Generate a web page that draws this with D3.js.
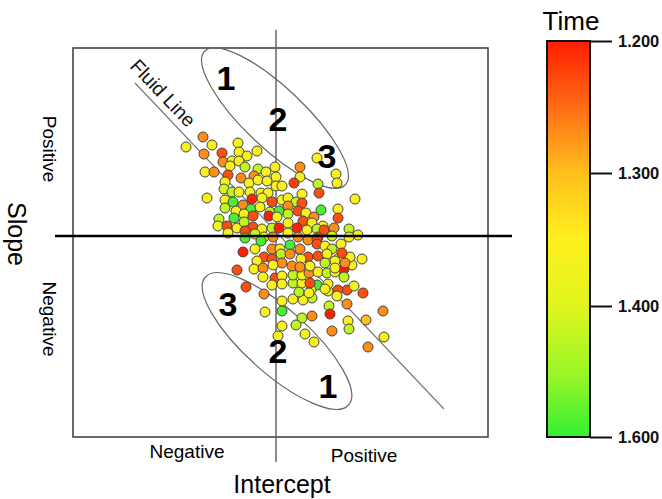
<!DOCTYPE html>
<html>
<head>
<meta charset="utf-8">
<script src="https://cdn.jsdelivr.net/npm/d3@7/dist/d3.min.js"></script>
<style>
  body { margin: 0; background: #fff; }
  svg text { font-family: Arial, "Liberation Sans", sans-serif; }
</style>
</head>
<body>
<svg id="chart" width="662" height="499"></svg>
<script>
// [intercept, slope, time]
const points = [
  [-0.73,0.99,1.27],[-0.90,0.89,1.36],[-0.64,0.91,1.36],[-0.38,0.93,1.36],[-0.72,0.82,1.27],
  [-0.54,0.83,1.23],[-0.37,0.84,1.36],[-0.29,0.80,1.36],[-0.19,0.85,1.36],[-0.53,0.74,1.27],
  [-0.44,0.75,1.36],[-0.37,0.75,1.36],[-0.31,0.69,1.45],[-0.46,0.70,1.36],[-0.71,0.64,1.36],
  [-0.62,0.64,1.27],[-0.48,0.61,1.23],[-0.18,0.67,1.45],[-0.10,0.64,1.36],[-0.01,0.69,1.36],
  [-0.22,0.60,1.27],[-0.51,0.54,1.36],[-0.35,0.58,1.27],[-0.27,0.53,1.36],[-0.18,0.56,1.36],
  [-0.09,0.55,1.36],[0.00,0.59,1.36],[-0.52,0.47,1.42],[-0.44,0.44,1.45],[-0.37,0.44,1.36],
  [-0.26,0.44,1.36],[-0.15,0.43,1.36],[-0.08,0.43,1.36],[0.00,0.50,1.36],[0.06,0.50,1.36],
  [-0.69,0.38,1.36],[-0.51,0.36,1.36],[-0.43,0.34,1.58],[-0.33,0.31,1.27],[-0.24,0.37,1.20],
  [-0.14,0.38,1.36],[-0.04,0.34,1.23],[0.06,0.36,1.36],[-0.51,0.28,1.45],[-0.40,0.25,1.36],
  [-0.25,0.27,1.58],[-0.16,0.29,1.36],[-0.06,0.24,1.45],[0.03,0.25,1.58],[-0.57,0.17,1.45],
  [-0.42,0.18,1.58],[-0.32,0.22,1.36],[-0.23,0.20,1.23],[-0.07,0.20,1.20],[0.01,0.19,1.36],
  [-0.58,0.10,1.36],[-0.49,0.10,1.23],[-0.39,0.08,1.36],[-0.32,0.14,1.45],[-0.23,0.09,1.23],
  [-0.14,0.07,1.36],[-0.04,0.08,1.45],[0.03,0.08,1.20],[-0.48,0.03,1.36],[-0.31,0.05,1.23],
  [-0.21,0.02,1.45],[-0.12,-0.01,1.36],[-0.03,-0.01,1.27],[-0.31,-0.02,1.58],
  [0.41,0.78,1.36],[0.24,0.69,1.27],[0.24,0.59,1.36],[0.60,0.62,1.36],[0.18,0.53,1.22],
  [0.42,0.52,1.45],[0.61,0.53,1.36],[0.43,0.43,1.23],[0.26,0.42,1.36],[0.12,0.38,1.36],
  [0.20,0.34,1.45],[0.79,0.37,1.36],[0.26,0.33,1.23],[0.12,0.30,1.27],[0.45,0.26,1.58],
  [0.62,0.27,1.36],[0.22,0.25,1.23],[0.30,0.23,1.36],[0.12,0.22,1.45],[0.38,0.19,1.27],
  [0.62,0.18,1.23],[0.27,0.15,1.23],[0.36,0.13,1.36],[0.47,0.10,1.36],[0.12,0.13,1.36],
  [0.21,0.08,1.20],[0.31,0.06,1.36],[0.41,0.07,1.45],[0.48,0.06,1.23],[0.58,0.08,1.27],
  [0.73,0.07,1.45],[0.82,0.01,1.36],[0.73,-0.01,1.36],[0.56,0.00,1.45],[0.42,-0.01,1.23],
  [0.12,0.03,1.36],[0.22,-0.01,1.27],
  [-0.15,-0.05,1.58],[-0.33,-0.16,1.20],[-0.21,-0.13,1.36],[-0.04,-0.13,1.27],[0.04,-0.13,1.36],
  [-0.12,-0.21,1.23],[-0.04,-0.23,1.23],[0.05,-0.18,1.45],[-0.19,-0.25,1.36],[0.06,-0.27,1.27],
  [-0.39,-0.34,1.23],[-0.22,-0.33,1.36],[-0.13,-0.32,1.27],[-0.03,-0.29,1.36],[-0.13,-0.41,1.36],
  [-0.01,-0.42,1.23],[0.06,-0.40,1.36],[-0.04,-0.49,1.36],[0.06,-0.48,1.36],[-0.30,-0.51,1.23],
  [-0.12,-0.58,1.27],[0.06,-0.65,1.36],[-0.11,-0.76,1.36],[0.06,-0.75,1.58],[0.06,-0.90,1.36],
  [0.26,-0.82,1.45],[0.02,-1.00,1.36],[0.20,-0.89,1.45],[0.29,-0.98,1.36],[0.38,-1.06,1.36],
  [0.36,-0.80,1.27],[0.53,-0.70,1.45],[0.54,-0.78,1.20],[0.56,-0.95,1.27],[0.71,-0.68,1.27],
  [0.72,-0.85,1.36],[0.73,-0.93,1.45],[0.90,-0.84,1.30],[0.92,-1.11,1.27],[1.07,-0.75,1.27],
  [1.08,-1.01,1.36],[0.87,-0.57,1.23],[0.71,-0.54,1.23],[0.62,-0.54,1.23],[0.86,-0.23,1.36],
  [0.76,-0.29,1.36],[0.78,-0.50,1.36],[0.61,-0.60,1.36],[0.52,-0.55,1.36],[0.41,-0.49,1.58],
  [0.36,-0.62,1.45],[0.27,-0.64,1.36],[0.17,-0.63,1.36],[0.23,-0.56,1.45],[0.35,-0.54,1.36],
  [0.17,-0.47,1.45],[0.26,-0.47,1.36],[0.17,-0.39,1.45],[0.26,-0.39,1.36],[0.33,-0.37,1.27],
  [0.42,-0.36,1.36],[0.51,-0.37,1.45],[0.59,-0.36,1.36],[0.68,-0.33,1.20],[0.68,-0.41,1.45],
  [0.63,-0.22,1.36],[0.74,-0.21,1.36],[0.14,-0.09,1.58],[0.24,-0.13,1.27],[0.32,-0.04,1.27],
  [0.41,-0.03,1.23],[0.41,-0.08,1.23],[0.49,-0.10,1.36],[0.56,-0.13,1.45],[0.65,-0.08,1.36],
  [0.14,-0.18,1.27],[0.32,-0.21,1.23],[0.42,-0.20,1.23],[0.51,-0.18,1.36],[0.66,-0.17,1.23],
  [0.25,-0.23,1.36],[0.16,-0.30,1.27],[0.24,-0.31,1.27],[0.34,-0.30,1.36],[0.49,-0.27,1.45],
  [0.59,-0.25,1.36],[0.69,-0.27,1.27],[0.59,-0.32,1.36],[0.34,-0.47,1.23],[0.52,-0.48,1.36],
  [0.49,-0.53,1.36],[0.33,-0.57,1.36]
];

// zones: [cx, cy, rx, ry, angle]
const zones = [
  [-0.01, 1.18, 0.97, 0.30, 43.5],
  [0.01, -1.05, 0.96, 0.32, 41.8]
];
const zoneLabels = [
  ['1', -0.50, 1.46], ['2', 0.02, 1.05], ['3', 0.51, 0.68],
  ['3', -0.48, -0.80], ['2', 0.02, -1.27], ['1', 0.52, -1.62]
];
const fluidLine = [[-1.41, 1.53], [1.68, -1.73]];

const timeTicks = [1.2, 1.3, 1.4, 1.6];
const colorStops = [0, 0.15, 0.33, 0.5, 0.67, 0.85, 1];
const colorValues = ['#ff1e00', '#ff6414', '#ffbe1e', '#fff01e', '#e1f51e', '#96f528', '#32f032'];

const svg = d3.select('#chart');

let xScale = d3.scaleLinear().domain([-2.03, 2.12]).range([73, 488]);
let yScale = d3.scaleLinear().domain([-2.01, 1.88]).range([437, 48]);

// time -> position along the bar (0 top, 1 bottom); the bar labels are not evenly spaced
let tScale = d3.scaleLinear().domain(timeTicks).range([0, 1/3, 2/3, 1]);
let colorScale = d3.scaleLinear().domain(colorStops).range(colorValues).interpolate(d3.interpolateRgb);
let color = t => colorScale(tScale(t));

// frame
svg.append('rect')
    .attr('x', xScale(-2.03)).attr('y', yScale(1.88))
    .attr('width', xScale(2.12) - xScale(-2.03))
    .attr('height', yScale(-2.01) - yScale(1.88))
    .style('fill', 'none')
    .style('stroke', '#3a3a3a')
    .style('stroke-width', 1.5);

// fluid line
svg.append('line')
    .attr('x1', xScale(fluidLine[0][0])).attr('y1', yScale(fluidLine[0][1]))
    .attr('x2', xScale(fluidLine[1][0])).attr('y2', yScale(fluidLine[1][1]))
    .style('stroke', '#777').style('stroke-width', 1.2);

let angle = Math.atan2(yScale(fluidLine[1][1]) - yScale(fluidLine[0][1]),
                       xScale(fluidLine[1][0]) - xScale(fluidLine[0][0])) * 180 / Math.PI;
svg.append('text')
    .attr('transform', `translate(${xScale(-1.47)},${yScale(1.69)}) rotate(${angle})`)
    .style('font-size', '19.5px')
    .style('fill', '#111')
    .text('Fluid Line');

// zone ellipses
svg.selectAll('.zone')
    .data(zones)
    .enter().append('ellipse')
    .attr('class', 'zone')
    .attr('transform', d => `translate(${xScale(d[0])},${yScale(d[1])}) rotate(${d[4]})`)
    .attr('rx', d => xScale(d[2]) - xScale(0))
    .attr('ry', d => xScale(d[3]) - xScale(0))
    .style('fill', 'none')
    .style('stroke', '#666')
    .style('stroke-width', 1.2);

// axes through the origin
svg.append('line')
    .attr('x1', xScale(0)).attr('x2', xScale(0))
    .attr('y1', yScale(2.06)).attr('y2', yScale(-2.26))
    .style('stroke', '#666').style('stroke-width', 1.5);

// points
svg.selectAll('.pt')
    .data(points)
    .enter().append('circle')
    .attr('class', 'pt')
    .attr('cx', d => xScale(d[0]))
    .attr('cy', d => yScale(d[1]))
    .attr('r', 5)
    .style('fill', d => color(d[2]))
    .style('stroke', '#444')
    .style('stroke-width', 1);

svg.append('line')
    .attr('x1', xScale(-2.21)).attr('x2', xScale(2.36))
    .attr('y1', yScale(0)).attr('y2', yScale(0))
    .style('stroke', '#000').style('stroke-width', 2.5);

// zone numbers
svg.selectAll('.zl')
    .data(zoneLabels)
    .enter().append('text')
    .attr('class', 'zl')
    .attr('x', d => xScale(d[1]))
    .attr('y', d => yScale(d[2]))
    .attr('text-anchor', 'middle')
    .style('font-size', '34px')
    .style('font-weight', 'bold')
    .text(d => d[0]);

// axis words
svg.append('text').attr('transform', 'translate(43,149) rotate(90)')
    .attr('text-anchor', 'middle').style('font-size', '19px').text('Positive');
svg.append('text').attr('transform', 'translate(43,319) rotate(90)')
    .attr('text-anchor', 'middle').style('font-size', '19px').text('Negative');
svg.append('text').attr('transform', 'translate(8,234) rotate(90)')
    .attr('text-anchor', 'middle').style('font-size', '25px').text('Slope');
svg.append('text').attr('x', 187).attr('y', 458)
    .attr('text-anchor', 'middle').style('font-size', '19px').text('Negative');
svg.append('text').attr('x', 364).attr('y', 462)
    .attr('text-anchor', 'middle').style('font-size', '19px').text('Positive');
svg.append('text').attr('x', 282).attr('y', 493)
    .attr('text-anchor', 'middle').style('font-size', '25px').text('Intercept');

// colour bar
let barY = d3.scaleLinear().domain(timeTicks).range([41, 173, 306, 437]);
let defs = svg.append('defs');
let grad = defs.append('linearGradient').attr('id', 'timeGrad')
    .attr('x1', 0).attr('y1', 0).attr('x2', 0).attr('y2', 1);
colorStops.forEach((s, i) => {
    grad.append('stop').attr('offset', s).attr('stop-color', colorValues[i]);
});
svg.append('rect')
    .attr('x', 547).attr('y', barY(1.2))
    .attr('width', 43).attr('height', barY(1.6) - barY(1.2))
    .style('fill', 'url(#timeGrad)')
    .style('stroke', '#111')
    .style('stroke-width', 2);

let barAxis = svg.append('g').attr('transform', 'translate(590,0)');
barAxis.call(d3.axisRight(barY).tickValues(timeTicks).tickFormat(d3.format('.3f')).tickSize(22).tickPadding(6))
    .select('.domain').remove();
barAxis.selectAll('.tick line').style('stroke', '#111').style('stroke-width', 2);
barAxis.selectAll('.tick text')
    .style('font-size', '16.5px')
    .style('font-weight', 'bold')
    .style('fill', '#111')
    .style('font-family', 'Arial, "Liberation Sans", sans-serif');

svg.append('text').attr('x', 571).attr('y', 30)
    .attr('text-anchor', 'middle').style('font-size', '26px').text('Time');
</script>
</body>
</html>
